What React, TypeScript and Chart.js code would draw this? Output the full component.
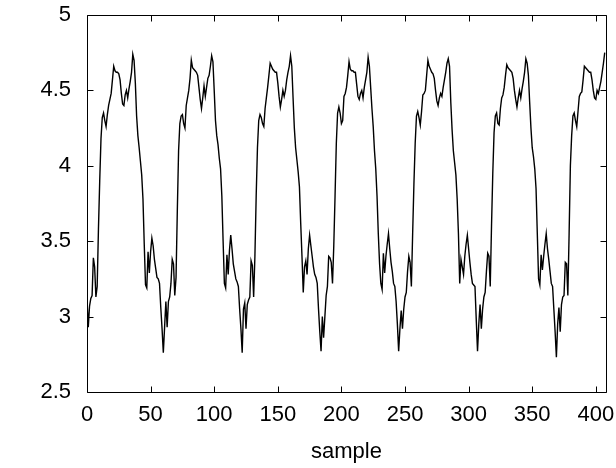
import React, { useEffect, useRef } from "react";
import { Chart, registerables } from "chart.js";

Chart.register(...registerables);

// Signal values, one array per period of the waveform (sample index 0..407)
const cycle1 = [
  3.11, 2.93, 3.07, 3.12, 3.14, 3.39, 3.33, 3.13, 3.2, 3.58,
  3.9, 4.18, 4.32, 4.35, 4.3, 4.26, 4.34, 4.4, 4.44, 4.48,
  4.57, 4.66, 4.63, 4.62, 4.62, 4.61, 4.57, 4.48, 4.41, 4.4,
  4.47, 4.5, 4.45, 4.51, 4.56, 4.62, 4.74, 4.7, 4.55, 4.33,
  4.2, 4.12, 4.03, 3.94, 3.78, 3.48, 3.21, 3.19, 3.43, 3.29,
  3.43, 3.52, 3.47, 3.38, 3.32, 3.26, 3.25, 3.22, 3.06, 2.92,
  2.76, 2.93,
];
const cycle2 = [
  3.1, 2.93, 3.1, 3.13, 3.22, 3.38, 3.35, 3.14, 3.26, 3.7,
  4.1, 4.28, 4.33, 4.34, 4.28, 4.25, 4.4, 4.45, 4.5, 4.58,
  4.7, 4.65, 4.64, 4.63, 4.62, 4.6, 4.52, 4.44, 4.38, 4.45,
  4.53, 4.46, 4.52, 4.58, 4.6, 4.66, 4.73, 4.69, 4.5, 4.3,
  4.2, 4.14, 4.05, 3.98, 3.8, 3.5, 3.22, 3.19, 3.41, 3.28,
  3.44, 3.54, 3.45, 3.35, 3.3, 3.25, 3.23, 3.2, 3.05, 2.92,
  2.76, 3.05,
];
const cycle3 = [
  3.09, 2.92, 3.08, 3.11, 3.13, 3.37, 3.34, 3.13, 3.4, 3.8,
  4.12, 4.3, 4.34, 4.32, 4.28, 4.26, 4.38, 4.45, 4.52, 4.6,
  4.68, 4.66, 4.64, 4.63, 4.62, 4.62, 4.55, 4.46, 4.39, 4.44,
  4.5, 4.46, 4.5, 4.57, 4.62, 4.66, 4.73, 4.66, 4.45, 4.25,
  4.12, 4.04, 3.96, 3.86, 3.62, 3.4, 3.16, 3.33, 3.37, 3.28,
  3.45, 3.54, 3.47, 3.4, 3.33, 3.28, 3.26, 3.22, 3.05, 2.9,
  2.77, 3.0,
];
const cycle4 = [
  2.86, 3.0, 3.14, 3.2, 3.4, 3.39, 3.36, 3.22, 3.47, 3.8,
  4.15, 4.35, 4.39, 4.35, 4.28, 4.3, 4.46, 4.48, 4.52, 4.6,
  4.69, 4.64, 4.63, 4.63, 4.62, 4.62, 4.54, 4.46, 4.44, 4.48,
  4.5, 4.45, 4.52, 4.57, 4.62, 4.72, 4.66, 4.52, 4.38, 4.26,
  4.1, 3.98, 3.8, 3.55, 3.35, 3.22, 3.18, 3.42, 3.29, 3.4,
  3.48, 3.55, 3.45, 3.36, 3.3, 3.22, 3.2, 3.1, 2.95, 2.77,
  2.92, 3.04,
];
const cycle5 = [
  2.92, 3.05, 3.13, 3.16, 3.3, 3.4, 3.36, 3.2, 3.55, 3.88,
  4.15, 4.33, 4.36, 4.32, 4.27, 4.36, 4.47, 4.48, 4.5, 4.6,
  4.7, 4.66, 4.64, 4.62, 4.61, 4.58, 4.5, 4.43, 4.4, 4.45,
  4.48, 4.46, 4.52, 4.57, 4.62, 4.68, 4.71, 4.66, 4.42, 4.24,
  4.1, 4.02, 3.94, 3.78, 3.55, 3.22, 3.38, 3.33, 3.28, 3.4,
  3.48, 3.54, 3.45, 3.36, 3.28, 3.22, 3.21, 3.2, 2.98, 2.77,
  2.95,
];
const cycle6 = [
  3.08, 2.92, 3.05, 3.13, 3.16, 3.3, 3.42, 3.4, 3.2, 3.6,
  3.95, 4.22, 4.33, 4.35, 4.28, 4.27, 4.38, 4.45, 4.47, 4.52,
  4.6, 4.67, 4.65, 4.64, 4.63, 4.62, 4.58, 4.5, 4.44, 4.39,
  4.45, 4.5, 4.45, 4.51, 4.56, 4.62, 4.71, 4.68, 4.6, 4.42,
  4.25, 4.12, 4.06, 3.98, 3.85, 3.55, 3.25, 3.21, 3.41, 3.31,
  3.4, 3.48, 3.55, 3.45, 3.38, 3.3, 3.22, 3.2, 3.05, 2.9,
  2.73, 2.95,
];
const cycle7 = [
  3.06, 2.9, 3.08, 3.13, 3.14, 3.36, 3.35, 3.14, 3.55, 4.0,
  4.2, 4.33, 4.35, 4.3, 4.26, 4.36, 4.46, 4.48, 4.49, 4.57,
  4.66, 4.65, 4.64, 4.63, 4.62, 4.62, 4.57, 4.5, 4.45, 4.44,
  4.5, 4.48, 4.52, 4.56, 4.62, 4.68, 4.75,
];

const signal = [...cycle1, ...cycle2, ...cycle3, ...cycle4, ...cycle5, ...cycle6, ...cycle7];

const xTickValues = [0, 50, 100, 150, 200, 250, 300, 350, 400];
const yTickValues = [2.5, 3, 3.5, 4, 4.5, 5];
const xMin = 0;
const xMax = 408;
const yMin = 2.5;
const yMax = 5;
const xTitle = "sample";

const FONT = "'Liberation Sans', Arial, sans-serif";

// Closed frame with short inward tick marks on all four sides
const framePlugin = {
  id: "frame",
  afterDatasetsDraw(chart: any) {
    const { ctx, chartArea, scales } = chart;
    const { left, right, top, bottom } = chartArea;
    const L = Math.round(left) + 0.5;
    const R = Math.round(right) + 0.5;
    const T = Math.round(top) + 0.5;
    const B = Math.round(bottom) + 0.5;
    const len = 6;
    ctx.save();
    ctx.strokeStyle = "#000";
    ctx.lineWidth = 1;
    ctx.beginPath();
    ctx.rect(L, T, R - L, B - T);
    for (const v of xTickValues) {
      const px = Math.round(scales.x.getPixelForValue(v)) + 0.5;
      ctx.moveTo(px, B);
      ctx.lineTo(px, B - len);
      ctx.moveTo(px, T);
      ctx.lineTo(px, T + len);
    }
    for (const v of yTickValues) {
      const py = Math.round(scales.y.getPixelForValue(v)) + 0.5;
      ctx.moveTo(L, py);
      ctx.lineTo(L + len, py);
      ctx.moveTo(R, py);
      ctx.lineTo(R - len, py);
    }
    ctx.stroke();
    ctx.restore();
  },
};

export default function App() {
  const canvasRef = useRef<HTMLCanvasElement | null>(null);

  useEffect(() => {
    document.body.style.margin = "0";
    const canvas = canvasRef.current;
    if (!canvas) return;
    const chart = new Chart(canvas, {
      type: "line",
      data: {
        datasets: [
          {
            data: signal.map((v, i) => ({ x: i, y: v })),
            borderColor: "#000",
            borderWidth: 1.4,
            pointRadius: 0,
            tension: 0,
            fill: false,
          },
        ],
      },
      options: {
        responsive: false,
        animation: false,
        events: [],
        layout: { padding: { top: 15, right: 10, left: 0, bottom: 0 } },
        plugins: {
          legend: { display: false },
          tooltip: { enabled: false },
        },
        scales: {
          x: {
            type: "linear",
            min: xMin,
            max: xMax,
            grid: { display: false, drawTicks: false },
            border: { display: false },
            afterBuildTicks: (s: any) => {
              s.ticks = xTickValues.map((value) => ({ value }));
            },
            afterFit: (s: any) => {
              s.height = 76;
              s.paddingLeft = 0;
              s.paddingRight = 0;
            },
            ticks: {
              color: "#000",
              font: { family: FONT, size: 22 },
              padding: 10,
              maxRotation: 0,
              autoSkip: false,
              callback: (v: any) => String(v),
            },
            title: {
              display: true,
              text: xTitle,
              color: "#000",
              font: { family: FONT, size: 22 },
              padding: { top: 0, bottom: 3 },
            },
          },
          y: {
            type: "linear",
            min: yMin,
            max: yMax,
            grid: { display: false, drawTicks: false },
            border: { display: false },
            afterBuildTicks: (s: any) => {
              s.ticks = yTickValues.map((value) => ({ value }));
            },
            afterFit: (s: any) => {
              s.width = 87;
              s.paddingTop = 0;
              s.paddingBottom = 0;
            },
            ticks: {
              color: "#000",
              font: { family: FONT, size: 22 },
              padding: 16,
              autoSkip: false,
              callback: (v: any) => String(v),
            },
          },
        },
      },
      plugins: [framePlugin],
    });
    return () => chart.destroy();
  }, []);

  return (
    <div style={{ position: "absolute", left: 0, top: 0, width: 616, height: 468, background: "#fff" }}>
      <canvas ref={canvasRef} width={616} height={468} style={{ width: 616, height: 468, display: "block" }} />
    </div>
  );
}
